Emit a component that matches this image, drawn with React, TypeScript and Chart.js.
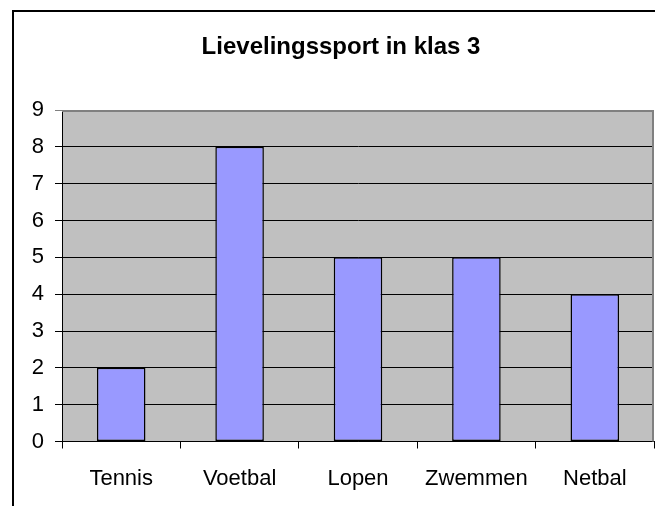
import React, { useEffect, useRef } from "react";
import { Chart, registerables } from "chart.js";

Chart.register(...registerables);

const titleText = "Lievelingssport in klas 3";
const categories = ["Tennis", "Voetbal", "Lopen", "Zwemmen", "Netbal"];
const values = [2, 8, 5, 5, 4];
const yMin = 0;
const yMax = 9;
const yStep = 1;

const FONT = "'Liberation Sans', Arial, sans-serif";

const framePlugin = {
  id: "frame",
  beforeDraw(chart: any) {
    const { ctx, chartArea, width, height } = chart;
    ctx.save();
    ctx.fillStyle = "#ffffff";
    ctx.fillRect(0, 0, width, height);
    ctx.fillStyle = "#C0C0C0";
    ctx.fillRect(chartArea.left, chartArea.top, chartArea.right - chartArea.left, chartArea.bottom - chartArea.top);
    ctx.strokeStyle = "#000000";
    ctx.lineWidth = 2;
    ctx.beginPath();
    ctx.moveTo(13, height);
    ctx.lineTo(13, 11);
    ctx.lineTo(width, 11);
    ctx.stroke();
    ctx.restore();
  },
  beforeDatasetsDraw(chart: any) {
    const { ctx, chartArea } = chart;
    ctx.save();
    ctx.strokeStyle = "#808080";
    ctx.lineWidth = 2;
    ctx.beginPath();
    ctx.moveTo(chartArea.left, chartArea.top + 1);
    ctx.lineTo(chartArea.right - 1, chartArea.top + 1);
    ctx.lineTo(chartArea.right - 1, chartArea.bottom);
    ctx.stroke();
    ctx.restore();
  },
};

export default function App() {
  const ref = useRef<HTMLCanvasElement>(null);
  useEffect(() => {
    if (!ref.current) return;
    const chart = new Chart(ref.current, {
      type: "bar",
      data: {
        labels: categories,
        datasets: [
          {
            data: values,
            backgroundColor: "#9999FF",
            borderColor: "#000000",
            borderWidth: 1.5,
            borderSkipped: false,
            categoryPercentage: 1,
            barPercentage: 0.41,
          },
        ],
      },
      options: {
        responsive: false,
        animation: false,
        layout: { padding: { left: 28, right: 1, top: 0, bottom: 0 } },
        plugins: {
          legend: { display: false },
          tooltip: { enabled: false },
          title: {
            display: true,
            text: titleText,
            color: "#000000",
            font: { family: FONT, size: 24, weight: "bold" },
            padding: { top: 33, bottom: 48.2 },
          },
        },
        scales: {
          x: {
            offset: true,
            grid: {
              offset: true,
              drawOnChartArea: false,
              drawTicks: true,
              tickLength: 7,
              color: "#000000",
            },
            border: { display: true, color: "#000000", width: 1 },
            ticks: {
              color: "#000000",
              font: { family: FONT, size: 22 },
              padding: 17,
              maxRotation: 0,
              autoSkip: false,
            },
            afterFit(scale: any) {
              scale.height = 64.5;
            },
          },
          y: {
            min: yMin,
            max: yMax,
            grid: {
              color: (c: any) => (c.tick && c.tick.value === yMax ? "#808080" : "#000000"),
              lineWidth: 1,
              tickLength: 7,
              drawTicks: true,
            },
            border: { display: true, color: "#000000", width: 1 },
            ticks: {
              stepSize: yStep,
              color: "#000000",
              font: { family: FONT, size: 22 },
              padding: 11,
            },
            afterFit(scale: any) {
              scale.width = 34;
            },
          },
        },
      },
      plugins: [framePlugin],
    });
    return () => chart.destroy();
  }, []);
  return (
    <div style={{ position: "absolute", left: 0, top: 0, width: 655, height: 506 }}>
      <canvas ref={ref} width={655} height={506} style={{ display: "block", width: 655, height: 506 }} />
    </div>
  );
}
